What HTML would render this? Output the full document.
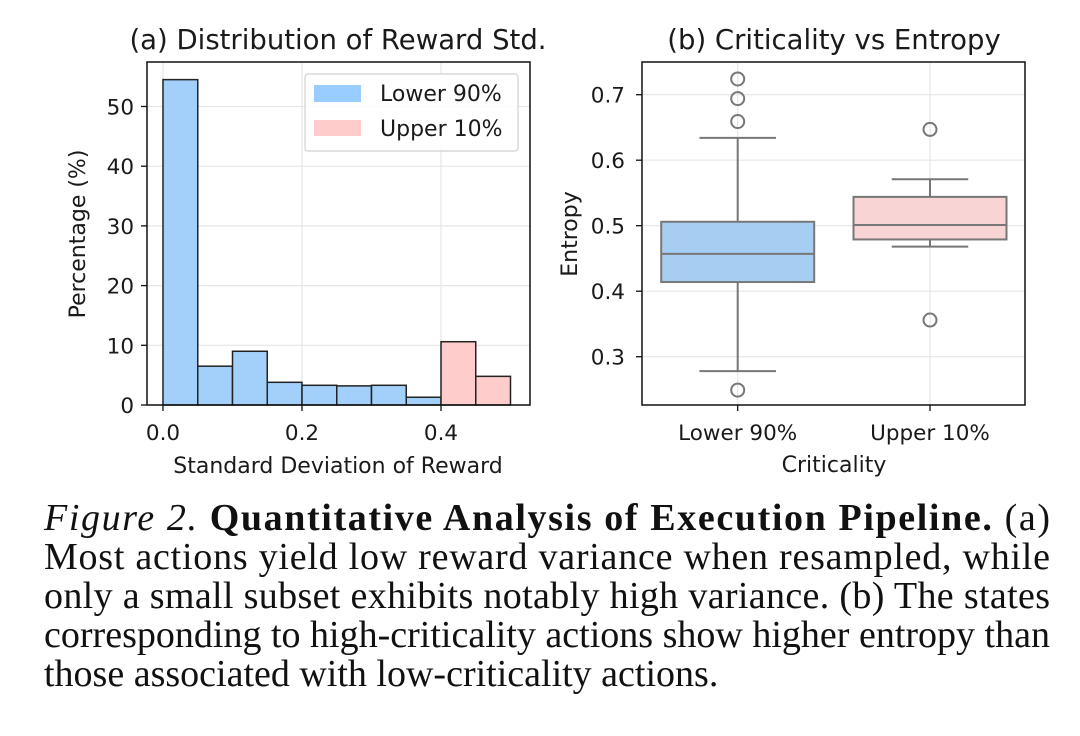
<!DOCTYPE html>
<html><head><meta charset="utf-8"><style>
body{margin:0;background:#fff;width:1080px;height:731px;overflow:hidden}
svg text{font-family:"DejaVu Sans","Liberation Sans",sans-serif;fill:#1a1a1a}
.cap{font-family:"Liberation Serif","DejaVu Serif",serif;font-size:38px;fill:#111}
</style></head><body>
<svg id="fig" width="1080" height="731" viewBox="0 0 1080 731" xmlns="http://www.w3.org/2000/svg">
<g id="left"></g>
<g id="right"></g>
<g>
<text class="cap" x="44" y="530" textLength="1006" lengthAdjust="spacing"><tspan font-style="italic">Figure 2.</tspan>  <tspan font-weight="bold">Quantitative Analysis of Execution Pipeline.</tspan>  (a)</text>
<text class="cap" x="44" y="569" textLength="1006" lengthAdjust="spacing">Most actions yield low reward variance when resampled, while</text>
<text class="cap" x="44" y="608" textLength="1006" lengthAdjust="spacing">only a small subset exhibits notably high variance. (b) The states</text>
<text class="cap" x="44" y="647" textLength="1006" lengthAdjust="spacing">corresponding to high-criticality actions show higher entropy than</text>
<text class="cap" x="44" y="686">those associated with low-criticality actions.</text>
</g>
</svg>
<script>
// Histogram data
const binStarts=[0,0.05,0.1,0.15,0.2,0.25,0.3,0.35,0.4,0.45];
const binPct=[54.5,6.5,9,3.8,3.3,3.2,3.3,1.3,10.6,4.8];
const binGroup=[0,0,0,0,0,0,0,0,1,1];
const histYTicks=[0,10,20,30,40,50];
const histXTicks=[0,0.2,0.4];
const histXLabels=["0.0","0.2","0.4"];
// Boxplot data
const boxCats=["Lower 90%","Upper 10%"];
const boxQ1=[0.414,0.479];
const boxMed=[0.457,0.501];
const boxQ3=[0.506,0.544];
const boxWLo=[0.278,0.468];
const boxWHi=[0.634,0.571];
const boxOut=[[0.724,0.694,0.659,0.249],[0.647,0.356]];
const boxYTicks=[0.3,0.4,0.5,0.6,0.7];

const NS="http://www.w3.org/2000/svg";
function mk(p,t,a,txt){const e=document.createElementNS(NS,t);for(const k in a)e.setAttribute(k,a[k]);if(txt!==undefined)e.textContent=txt;p.appendChild(e);return e;}
const FT=21.5, FA=22, FTI=27.5;

// Left
const L=document.getElementById('left');
const lx=v=>163+v*695, ly=v=>405-v*5.97;
const lL=147,lR=530,lT=62,lB=405;
histYTicks.forEach(t=>{const g=mk(L,'line',{x1:lL,x2:lR,y1:ly(t),y2:ly(t),stroke:'#e6e6e6','stroke-width':1.2});
});
histXTicks.forEach(t=>{const g=mk(L,'line',{x1:lx(t),x2:lx(t),y1:lT,y2:lB,stroke:'#e6e6e6','stroke-width':1.2});
});
binStarts.forEach((s,i)=>{const r=mk(L,'rect',{x:lx(s),y:ly(binPct[i]),width:lx(s+0.05)-lx(s),height:ly(0)-ly(binPct[i]),fill:binGroup[i]?'#ffcccc':'#a3d0fb',stroke:'#222','stroke-width':1.5});
});
const lf=mk(L,'rect',{x:lL,y:lT,width:lR-lL,height:lB-lT,fill:'none',stroke:'#111','stroke-width':1.5});

histYTicks.forEach(t=>{mk(L,'line',{x1:lL-6,x2:lL,y1:ly(t),y2:ly(t),stroke:'#111','stroke-width':1.3});
const tx=mk(L,'text',{x:lL-13,y:ly(t)+8,'text-anchor':'end','font-size':FT},String(t));
});
histXTicks.forEach((t,i)=>{mk(L,'line',{x1:lx(t),x2:lx(t),y1:lB,y2:lB+6,stroke:'#111','stroke-width':1.3});
const tx=mk(L,'text',{x:lx(t),y:440,'text-anchor':'middle','font-size':FT},histXLabels[i]);
});
let e=mk(L,'text',{x:338,y:473,'text-anchor':'middle','font-size':FA},'Standard Deviation of Reward');

e=mk(L,'text',{x:0,y:0,'text-anchor':'middle','font-size':FA,transform:'translate(85,234) rotate(-90)'},'Percentage (%)');

e=mk(L,'text',{x:338,y:49,'text-anchor':'middle','font-size':FTI},'(a) Distribution of Reward Std.');

const lg=mk(L,'g',{});
mk(lg,'rect',{x:305,y:74,width:213,height:77,rx:3,fill:'#fff','fill-opacity':0.85,stroke:'#d0d0d0','stroke-width':1.2});
mk(lg,'rect',{x:314,y:85,width:47,height:17,fill:'#99ccff'});
mk(lg,'rect',{x:314,y:120,width:47,height:16,fill:'#ffcccc'});
e=mk(lg,'text',{x:380,y:101,'font-size':FA},'Lower 90%');
e=mk(lg,'text',{x:380,y:136,'font-size':FA},'Upper 10%');

// Right
const R=document.getElementById('right');
const rL=642,rR=1025,rT=62,rB=405;
const ry=v=>225.7-(v-0.5)*655;
const rx=i=>737.7+i*192.3;
const hw=76.5;
boxYTicks.forEach(t=>{const g=mk(R,'line',{x1:rL,x2:rR,y1:ry(t),y2:ry(t),stroke:'#e6e6e6','stroke-width':1.2});
});
boxCats.forEach((c,i)=>{const g=mk(R,'line',{x1:rx(i),x2:rx(i),y1:rT,y2:rB,stroke:'#e6e6e6','stroke-width':1.2});
});
const cols=['#a6cdf2','#f9d4d4'];
boxCats.forEach((c,i)=>{const g=mk(R,'g',{stroke:'#777','stroke-width':2});

const x=rx(i);
mk(g,'line',{x1:x,x2:x,y1:ry(boxQ3[i]),y2:ry(boxWHi[i])});
mk(g,'line',{x1:x,x2:x,y1:ry(boxQ1[i]),y2:ry(boxWLo[i])});
mk(g,'line',{x1:x-hw/2,x2:x+hw/2,y1:ry(boxWHi[i]),y2:ry(boxWHi[i])});
mk(g,'line',{x1:x-hw/2,x2:x+hw/2,y1:ry(boxWLo[i]),y2:ry(boxWLo[i])});
mk(g,'rect',{x:x-hw,y:ry(boxQ3[i]),width:2*hw,height:ry(boxQ1[i])-ry(boxQ3[i]),fill:cols[i]});
mk(g,'line',{x1:x-hw,x2:x+hw,y1:ry(boxMed[i]),y2:ry(boxMed[i])});
boxOut[i].forEach(o=>{const p=mk(g,'circle',{cx:x,cy:ry(o),r:6.5,fill:'none'});
});
});
const rf=mk(R,'rect',{x:rL,y:rT,width:rR-rL,height:rB-rT,fill:'none',stroke:'#111','stroke-width':1.5});

boxYTicks.forEach(t=>{mk(R,'line',{x1:rL-6,x2:rL,y1:ry(t),y2:ry(t),stroke:'#111','stroke-width':1.3});
const tx=mk(R,'text',{x:rL-17,y:ry(t)+8,'text-anchor':'end','font-size':FT},t.toFixed(1));
});
boxCats.forEach((c,i)=>{mk(R,'line',{x1:rx(i),x2:rx(i),y1:rB,y2:rB+6,stroke:'#111','stroke-width':1.3});
const tx=mk(R,'text',{x:rx(i),y:440,'text-anchor':'middle','font-size':FT},c);
});
e=mk(R,'text',{x:834,y:472,'text-anchor':'middle','font-size':FA},'Criticality');

e=mk(R,'text',{x:0,y:0,'text-anchor':'middle','font-size':FA,transform:'translate(577,234) rotate(-90)'},'Entropy');

e=mk(R,'text',{x:834,y:49,'text-anchor':'middle','font-size':FTI},'(b) Criticality vs Entropy');

</script>
</body></html>
